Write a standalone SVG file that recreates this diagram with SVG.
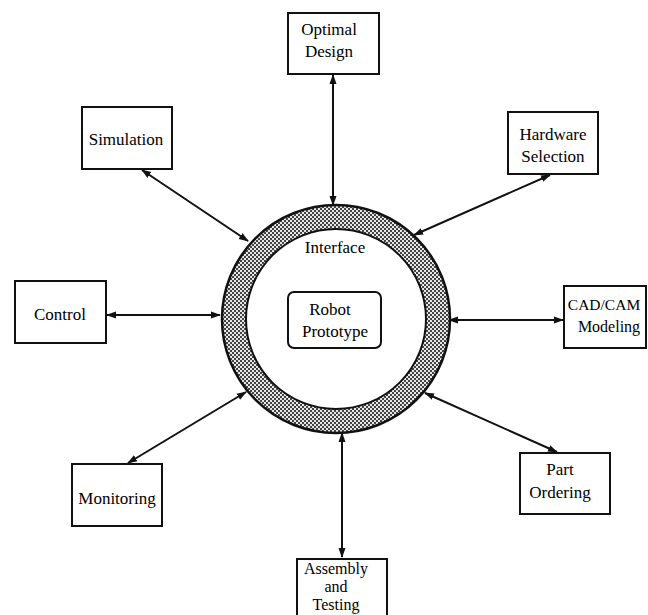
<svg xmlns="http://www.w3.org/2000/svg" width="648" height="615" viewBox="0 0 648 615">
<style>
.box{fill:#fff;stroke:#111;stroke-width:2}
.t{font-family:"Liberation Serif","Times New Roman",serif;font-size:17px;fill:#000;text-anchor:middle}
.s{font-size:16px}
.c{stroke:#111;stroke-width:2;fill:none;marker-start:url(#ah);marker-end:url(#ah)}
</style>
<defs>
<pattern id="dots" width="4" height="4" patternUnits="userSpaceOnUse">
<rect width="4" height="4" fill="#e6e6e6"/>
<rect x="0" y="0" width="2" height="2" fill="#444"/>
<rect x="2" y="2" width="2" height="2" fill="#444"/>
</pattern>
<marker id="ah" viewBox="0 0 10 10" refX="9" refY="5" markerWidth="5" markerHeight="5" orient="auto-start-reverse" markerUnits="strokeWidth">
<path d="M0,1.5 L10,5 L0,8.5 Z" fill="#111"/>
</marker>
</defs>
<rect width="648" height="615" fill="#fff"/>

<g id="connectors">
<line class="c" x1="333" y1="75" x2="333" y2="205"/>
<line class="c" x1="142" y1="170" x2="248" y2="241"/>
<line class="c" x1="107" y1="315" x2="220" y2="315"/>
<line class="c" x1="550" y1="175" x2="414" y2="235"/>
<line class="c" x1="449" y1="320" x2="563" y2="320"/>
<line class="c" x1="128" y1="463" x2="246" y2="392"/>
<line class="c" x1="342" y1="433" x2="342" y2="557"/>
<line class="c" x1="425" y1="393" x2="557" y2="452"/>
</g>

<g id="interface">
<circle cx="336" cy="319" r="102" fill="none" stroke="url(#dots)" stroke-width="24"/>
<circle cx="336" cy="319" r="114" fill="none" stroke="#111" stroke-width="2.5"/>
<circle cx="336" cy="319" r="90" fill="#fff" stroke="#111" stroke-width="2"/>
<text class="t" x="335" y="253">Interface</text>
</g>

<g id="robot-prototype">
<rect x="288" y="292" width="93" height="56" rx="6" class="box"/>
<text class="t" x="330" y="315">Robot</text>
<text class="t" x="335" y="337">Prototype</text>
</g>

<g id="optimal-design">
<rect x="288" y="13" width="91" height="61" class="box" stroke-width="2.5"/>
<text class="t" x="329" y="35">Optimal</text>
<text class="t" x="329" y="57">Design</text>
</g>

<g id="simulation">
<rect x="82" y="107" width="90" height="62" class="box"/>
<text class="t" x="126" y="145">Simulation</text>
</g>

<g id="hardware-selection">
<rect x="508" y="112" width="90" height="62" class="box"/>
<text class="t" x="553" y="140">Hardware</text>
<text class="t" x="553" y="162">Selection</text>
</g>

<g id="control">
<rect x="15" y="281" width="91" height="62" class="box"/>
<text class="t" x="60" y="320">Control</text>
</g>

<g id="cad-cam-modeling">
<rect x="564" y="286" width="82" height="62" class="box"/>
<text class="t" x="604" y="310" style="font-size:15.5px">CAD/CAM</text>
<text class="t" x="609" y="332" style="font-size:16px">Modeling</text>
</g>

<g id="monitoring">
<rect x="72" y="464" width="90" height="62" class="box"/>
<text class="t" x="117" y="504">Monitoring</text>
</g>

<g id="part-ordering">
<rect x="520" y="453" width="90" height="61" class="box"/>
<text class="t" x="560" y="475">Part</text>
<text class="t" x="560" y="498">Ordering</text>
</g>

<g id="assembly-testing">
<rect x="297" y="559" width="90" height="70" class="box"/>
<text class="t s" x="336" y="574">Assembly</text>
<text class="t s" x="336" y="592">and</text>
<text class="t s" x="336" y="610">Testing</text>
</g>
</svg>
